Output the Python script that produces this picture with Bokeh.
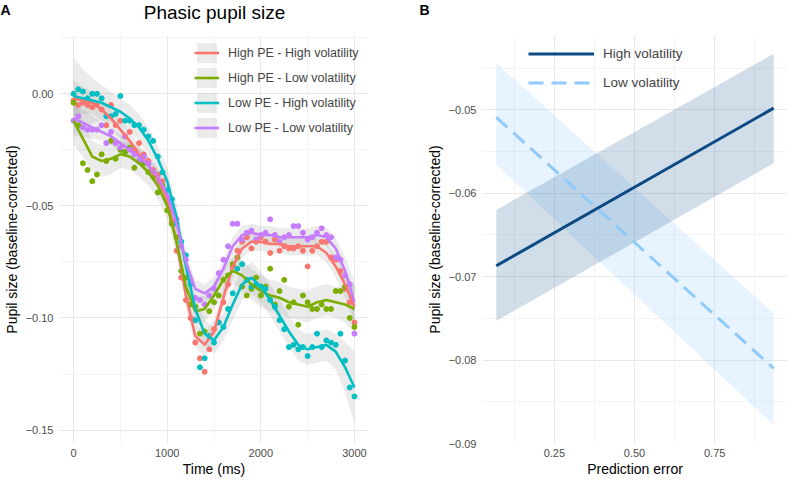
import numpy as np
from bokeh.plotting import figure
from bokeh.layouts import row, column
from bokeh.models import (FixedTicker, CustomJSTickFormatter, Label, Legend,
                          LegendItem, Range1d)
from bokeh.embed import file_html
from bokeh.resources import INLINE

FONT = "Liberation Sans"

# ---------------- Panel A data ----------------
point_time = list(range(0, 3001, 50))
smooth_time = list(range(0, 3001, 100))

series_names = ["High PE - High volatility", "High PE - Low volatility",
                "Low PE - High volatility", "Low PE - Low volatility"]
series_colors = ["#F8766D", "#7CAE00", "#00BFC4", "#C77CFF"]

hp_hv_points = [-0.003, -0.005, -0.004, -0.005, -0.006, -0.005, -0.007, -0.014, -0.005, -0.014,
                -0.012, -0.019, -0.017, -0.025, -0.022, -0.027, -0.030, -0.034, -0.036, -0.039,
                -0.047, -0.057, -0.070, -0.082, -0.092, -0.100, -0.111, -0.118, -0.124, -0.114,
                -0.105, -0.102, -0.093, -0.085, -0.077, -0.070, -0.066, -0.064, -0.069, -0.066,
                -0.064, -0.066, -0.071, -0.065, -0.070, -0.068, -0.069, -0.069, -0.068, -0.070,
                -0.077, -0.070, -0.068, -0.066, -0.066, -0.073, -0.074, -0.079, -0.087, -0.093,
                -0.102]
hp_lv_points = [-0.004, -0.014, -0.031, -0.034, -0.039, -0.036, -0.027, -0.030, -0.021, -0.029,
                -0.025, -0.026, -0.024, -0.033, -0.030, -0.031, -0.035, -0.037, -0.044, -0.041,
                -0.052, -0.058, -0.064, -0.079, -0.082, -0.094, -0.095, -0.107, -0.106, -0.097,
                -0.093, -0.090, -0.083, -0.081, -0.076, -0.073, -0.086, -0.090, -0.087, -0.082,
                -0.090, -0.086, -0.078, -0.094, -0.088, -0.083, -0.095, -0.093, -0.103, -0.090,
                -0.093, -0.096, -0.096, -0.094, -0.096, -0.096, -0.088, -0.088, -0.086, -0.100,
                -0.104]
lp_hv_points = [0.000, 0.002, 0.001, -0.002, 0.000, 0.000, -0.002, -0.010, -0.010, -0.009,
                -0.001, -0.012, -0.012, -0.014, -0.014, -0.016, -0.019, -0.021, -0.028, -0.035,
                -0.043, -0.047, -0.058, -0.066, -0.072, -0.085, -0.101, -0.122, -0.118, -0.108,
                -0.111, -0.102, -0.104, -0.096, -0.089, -0.078, -0.076, -0.083, -0.086, -0.085,
                -0.086, -0.087, -0.092, -0.095, -0.101, -0.105, -0.113, -0.112, -0.114, -0.113,
                -0.117, -0.113, -0.107, -0.113, -0.110, -0.111, -0.112, -0.107, -0.119, -0.131,
                -0.135]
lp_lv_points = [-0.012, -0.010, -0.015, -0.016, -0.016, -0.016, -0.014, -0.022, -0.017, -0.022,
                -0.024, -0.019, -0.025, -0.027, -0.030, -0.028, -0.031, -0.035, -0.039, -0.042,
                -0.046, -0.050, -0.056, -0.068, -0.074, -0.084, -0.091, -0.092, -0.094, -0.090,
                -0.087, -0.080, -0.074, -0.068, -0.058, -0.058, -0.065, -0.062, -0.061, -0.065,
                -0.063, -0.062, -0.056, -0.063, -0.066, -0.064, -0.063, -0.059, -0.059, -0.062,
                -0.065, -0.064, -0.062, -0.060, -0.063, -0.064, -0.073, -0.074, -0.081, -0.085,
                -0.107]

hp_hv_fit = [-0.002, -0.003, -0.004, -0.007, -0.011, -0.016, -0.021, -0.027, -0.032, -0.038,
             -0.047, -0.066, -0.090, -0.108, -0.112, -0.106, -0.091, -0.077, -0.069, -0.066,
             -0.066, -0.067, -0.067, -0.068, -0.068, -0.068, -0.068, -0.071, -0.077, -0.085,
             -0.095]
hp_lv_fit = [-0.012, -0.020, -0.028, -0.030, -0.029, -0.027, -0.028, -0.031, -0.035, -0.041,
             -0.050, -0.066, -0.086, -0.097, -0.096, -0.090, -0.083, -0.079, -0.081, -0.085,
             -0.088, -0.090, -0.091, -0.093, -0.094, -0.095, -0.093, -0.092, -0.093, -0.094,
             -0.096]
lp_hv_fit = [-0.001, -0.002, -0.003, -0.004, -0.006, -0.008, -0.011, -0.015, -0.021, -0.029,
             -0.039, -0.055, -0.077, -0.096, -0.107, -0.110, -0.104, -0.094, -0.085, -0.082,
             -0.086, -0.092, -0.099, -0.106, -0.112, -0.114, -0.113, -0.112, -0.115, -0.122,
             -0.131]
lp_lv_fit = [-0.011, -0.013, -0.015, -0.017, -0.019, -0.022, -0.025, -0.028, -0.032, -0.037,
             -0.045, -0.058, -0.075, -0.087, -0.089, -0.086, -0.078, -0.068, -0.063, -0.062,
             -0.063, -0.063, -0.064, -0.064, -0.064, -0.064, -0.063, -0.064, -0.069, -0.079,
             -0.093]

# half-width of the 95% confidence band of each smooth
hp_hv_ci = [0.008, 0.006, 0.005, 0.005, 0.004, 0.004, 0.004, 0.004, 0.004, 0.004, 0.004,
            0.004, 0.005, 0.005, 0.005, 0.005, 0.005, 0.005, 0.004, 0.004, 0.004, 0.004,
            0.004, 0.004, 0.004, 0.004, 0.004, 0.004, 0.005, 0.006, 0.009]
hp_lv_ci = [0.011, 0.008, 0.007, 0.007, 0.007, 0.006, 0.006, 0.006, 0.006, 0.006, 0.006,
            0.006, 0.006, 0.006, 0.006, 0.006, 0.006, 0.006, 0.007, 0.007, 0.007, 0.007,
            0.007, 0.007, 0.007, 0.007, 0.007, 0.007, 0.007, 0.008, 0.011]
lp_hv_ci = [0.017, 0.013, 0.010, 0.008, 0.007, 0.006, 0.006, 0.006, 0.006, 0.006, 0.006,
            0.006, 0.006, 0.006, 0.006, 0.006, 0.006, 0.007, 0.007, 0.007, 0.007, 0.007,
            0.007, 0.007, 0.007, 0.007, 0.007, 0.007, 0.008, 0.011, 0.016]
lp_lv_ci = [0.008, 0.006, 0.005, 0.004, 0.004, 0.004, 0.004, 0.004, 0.004, 0.004, 0.004,
            0.004, 0.004, 0.004, 0.004, 0.004, 0.004, 0.004, 0.004, 0.004, 0.004, 0.004,
            0.004, 0.004, 0.004, 0.004, 0.004, 0.004, 0.005, 0.006, 0.009]

a_x_ticks = [0, 1000, 2000, 3000]
a_y_ticks = [-0.15, -0.10, -0.05, 0.00]

# ---------------- Panel B data ----------------
pe_values = [0.069, 0.934]
b_names = ["High volatility", "Low volatility"]
high_fit = [-0.0687, -0.0498]
high_lower = [-0.0753, -0.0564]
high_upper = [-0.0620, -0.0433]
low_fit = [-0.0509, -0.0810]
low_lower = [-0.0566, -0.0878]
low_upper = [-0.0444, -0.0744]
b_x_ticks = [0.25, 0.50, 0.75]
b_y_ticks = [-0.09, -0.08, -0.07, -0.06, -0.05]

HIGH_COLOR = "#0C4A84"
LOW_COLOR = "#90CAF9"

HEADER_H = 35
FRAME_H = 408
BOTTOM = 39
FW_A, LEFT_A, RIGHT_A = 309, 55, 28
FW_B, LEFT_B, RIGHT_B = 305, 86, 0
W_A = FW_A + LEFT_A + RIGHT_A
W_B = FW_B + LEFT_B + RIGHT_B


def style_axes(p, xlabel, ylabel, xticks, xminor, yticks, yminor, xdec, ydec):
    p.xaxis.ticker = FixedTicker(ticks=xticks, minor_ticks=xminor)
    p.yaxis.ticker = FixedTicker(ticks=yticks, minor_ticks=yminor)
    p.xaxis.formatter = CustomJSTickFormatter(
        code="return tick.toFixed(%d).replace('-', '\\u2212');" % xdec)
    p.yaxis.formatter = CustomJSTickFormatter(
        code="return tick.toFixed(%d).replace('-', '\\u2212');" % ydec)
    for ax in (p.xaxis[0], p.yaxis[0]):
        ax.axis_line_color = None
        ax.major_tick_line_color = None
        ax.minor_tick_line_color = None
        ax.major_tick_out = 0
        ax.major_tick_in = 0
        ax.minor_tick_out = 0
        ax.minor_tick_in = 0
        ax.major_label_text_font = FONT
        ax.major_label_text_font_size = "11px"
        ax.major_label_text_color = "#4d4d4d"
        ax.axis_label_text_font = FONT
        ax.axis_label_text_font_size = "14px"
        ax.axis_label_text_font_style = "normal"
        ax.axis_label_text_color = "#000000"
    p.xaxis.axis_label = xlabel
    p.yaxis.axis_label = ylabel
    p.xaxis.major_label_standoff = 5
    p.xaxis.axis_label_standoff = 1
    p.yaxis.major_label_standoff = 6
    p.yaxis.axis_label_standoff = 3
    for g in (p.xgrid[0], p.ygrid[0]):
        g.grid_line_color = "#e8e8e8"
        g.grid_line_width = 1
        g.minor_grid_line_color = "#f1f1f1"
        g.minor_grid_line_width = 0.8


def header(width, panel_letter, letter_x, title=None, title_x=None):
    h = figure(frame_width=width, frame_height=HEADER_H, x_range=Range1d(0, width),
               y_range=Range1d(0, HEADER_H), output_backend="svg", toolbar_location=None,
               min_border=0, outline_line_color=None, title=None)
    h.xaxis.visible = False
    h.yaxis.visible = False
    h.xgrid.visible = False
    h.ygrid.visible = False
    h.add_layout(Label(x=letter_x, y=HEADER_H - 9, text=panel_letter, text_align="left",
                       text_baseline="middle", text_font=FONT, text_font_size="14px",
                       text_font_style="bold", text_color="#000000"))
    if title:
        h.add_layout(Label(x=title_x, y=HEADER_H - 12, text=title, text_align="center",
                           text_baseline="middle", text_font=FONT, text_font_size="19px",
                           text_color="#000000"))
    return h


def panel(x_range, y_range, left, right, frame_w):
    return figure(frame_width=frame_w, frame_height=FRAME_H, x_range=x_range, y_range=y_range,
                  output_backend="svg", toolbar_location=None, min_border_left=left,
                  min_border_right=right, min_border_top=0, min_border_bottom=BOTTOM,
                  outline_line_color=None, title=None)


# ---------------- Panel A ----------------
pA = panel(Range1d(-150, 3150), Range1d(-0.156, 0.026), LEFT_A, RIGHT_A, FW_A)
style_axes(pA, "Time (ms)", "Pupil size (baseline-corrected)", a_x_ticks, [500, 1500, 2500],
           a_y_ticks, [-0.125, -0.075, -0.025, 0.025], 0, 2)

points = [hp_hv_points, hp_lv_points, lp_hv_points, lp_lv_points]
fits = [hp_hv_fit, hp_lv_fit, lp_hv_fit, lp_lv_fit]
cis = [hp_hv_ci, hp_lv_ci, lp_hv_ci, lp_lv_ci]

bands, lines = [], []
for fit, ci in zip(fits, cis):
    f = np.array(fit)
    c = np.array(ci)
    bands.append(pA.varea(x=smooth_time, y1=f - c, y2=f + c, fill_color="#999999", fill_alpha=0.2))
for pts, col in zip(points, series_colors):
    pA.scatter(x=point_time, y=pts, size=5, fill_color=col, line_color=col)
for fit, col in zip(fits, series_colors):
    lines.append(pA.line(x=smooth_time, y=fit, line_color=col, line_width=2.6))

legA = Legend(items=[LegendItem(label=n, renderers=[b, l]) for n, b, l in zip(series_names, bands, lines)],
              location=(135, FRAME_H - 5 - 100), glyph_width=25, glyph_height=25, spacing=0,
              padding=0, margin=0, label_standoff=9, label_text_font=FONT,
              label_text_font_size="12.5px", label_height=25, background_fill_alpha=0,
              border_line_color=None)
pA.add_layout(legA)

# ---------------- Panel B ----------------
pB = panel(Range1d(0.026, 0.977), Range1d(-0.0900, -0.0411), LEFT_B, RIGHT_B, FW_B)
style_axes(pB, "Prediction error", "Pupil size (baseline-corrected)", b_x_ticks,
           [0.125, 0.375, 0.625, 0.875], b_y_ticks, [-0.085, -0.075, -0.065, -0.055, -0.045], 2, 2)

pB.varea(x=pe_values, y1=low_lower, y2=low_upper, fill_color=LOW_COLOR, fill_alpha=0.22)
pB.varea(x=pe_values, y1=high_lower, y2=high_upper, fill_color=HIGH_COLOR, fill_alpha=0.19)
low_r = pB.line(x=pe_values, y=low_fit, line_color=LOW_COLOR, line_width=3, line_dash="15 8")
high_r = pB.line(x=pe_values, y=high_fit, line_color=HIGH_COLOR, line_width=3)

legB = Legend(items=[LegendItem(label=b_names[0], renderers=[high_r]),
                     LegendItem(label=b_names[1], renderers=[low_r])],
              location=(46, FRAME_H - 4 - 58), glyph_width=66, glyph_height=29, spacing=0,
              padding=0, margin=0, label_standoff=9, label_text_font=FONT,
              label_text_font_size="13.5px", label_height=29, background_fill_alpha=0,
              border_line_color=None)
pB.add_layout(legB)

# ---------------- Headers (panel letters and title) ----------------
hA = header(W_A, "A", 0, "Phasic pupil size", 214)
hB = header(W_B, "B", 27)

layout = column(row(hA, hB, spacing=0), row(pA, pB, spacing=0), spacing=0)
open("out.html", "w").write(file_html(layout, INLINE))
